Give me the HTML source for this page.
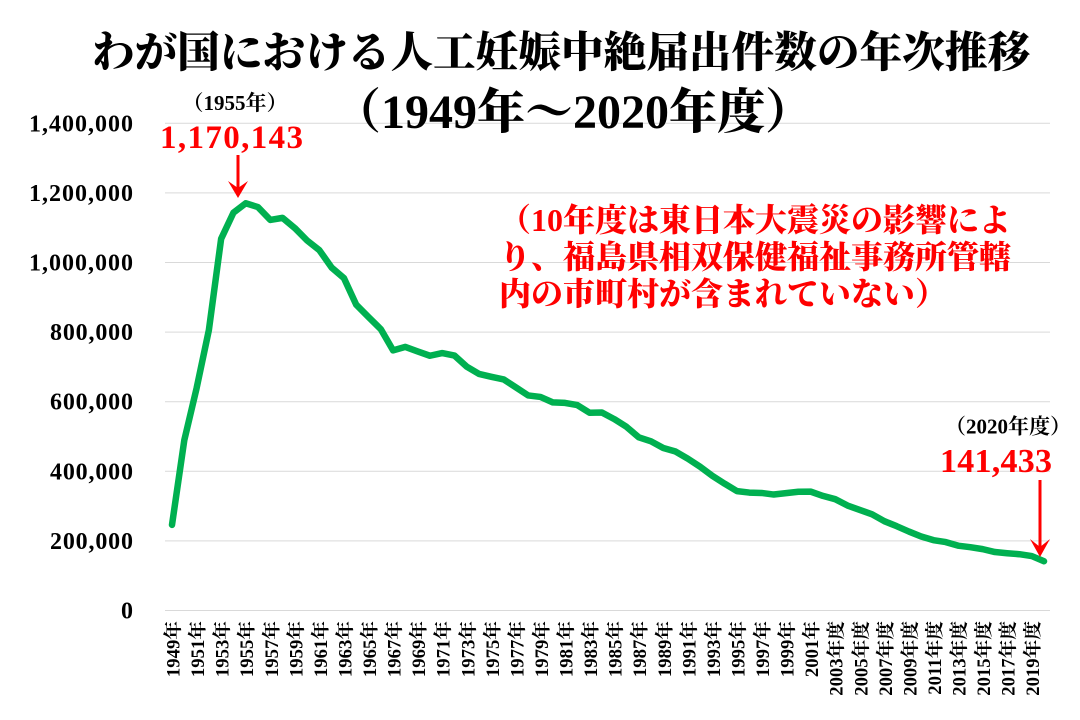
<!DOCTYPE html>
<html lang="ja">
<head>
<meta charset="utf-8">
<style>
html,body{margin:0;padding:0;background:#fff;}
svg{display:block;}
.lat{font-family:"Liberation Serif","Noto Serif CJK SC",serif;font-weight:bold;}
.cjk{font-family:"Liberation Serif","Noto Serif CJK SC","Noto Serif CJK JP",serif;}
</style>
</head>
<body>
<svg width="1080" height="720" viewBox="0 0 1080 720" xmlns="http://www.w3.org/2000/svg">
<rect width="1080" height="720" fill="#fff"/>

<!-- gridlines -->
<g stroke="#d9d9d9" stroke-width="1">
<line x1="165" x2="1050" y1="610.5" y2="610.5"/>
<line x1="165" x2="1050" y1="540.9" y2="540.9"/>
<line x1="165" x2="1050" y1="471.3" y2="471.3"/>
<line x1="165" x2="1050" y1="401.7" y2="401.7"/>
<line x1="165" x2="1050" y1="332.1" y2="332.1"/>
<line x1="165" x2="1050" y1="262.5" y2="262.5"/>
<line x1="165" x2="1050" y1="192.9" y2="192.9"/>
<line x1="165" x2="1050" y1="123.3" y2="123.3"/>
</g>

<!-- y labels -->
<g class="lat" font-size="24" fill="#000" text-anchor="end">
<text x="133" y="131.3" textLength="104" lengthAdjust="spacing">1,400,000</text>
<text x="133" y="200.9" textLength="104" lengthAdjust="spacing">1,200,000</text>
<text x="133" y="270.5" textLength="104" lengthAdjust="spacing">1,000,000</text>
<text x="133" y="340.1" textLength="83" lengthAdjust="spacing">800,000</text>
<text x="133" y="409.7" textLength="83" lengthAdjust="spacing">600,000</text>
<text x="133" y="479.3" textLength="83" lengthAdjust="spacing">400,000</text>
<text x="133" y="548.9" textLength="83" lengthAdjust="spacing">200,000</text>
<text x="133" y="618.5">0</text>
</g>

<!-- x labels -->
<g class="cjk" font-size="18.7" font-weight="bold" fill="#000" text-anchor="end" dominant-baseline="central">
<text transform="translate(174,621) rotate(-90)">1949年</text>
<text transform="translate(198.56,621) rotate(-90)">1951年</text>
<text transform="translate(223.13,621) rotate(-90)">1953年</text>
<text transform="translate(247.69,621) rotate(-90)">1955年</text>
<text transform="translate(272.26,621) rotate(-90)">1957年</text>
<text transform="translate(296.82,621) rotate(-90)">1959年</text>
<text transform="translate(321.38,621) rotate(-90)">1961年</text>
<text transform="translate(345.95,621) rotate(-90)">1963年</text>
<text transform="translate(370.51,621) rotate(-90)">1965年</text>
<text transform="translate(395.08,621) rotate(-90)">1967年</text>
<text transform="translate(419.64,621) rotate(-90)">1969年</text>
<text transform="translate(444.20,621) rotate(-90)">1971年</text>
<text transform="translate(468.77,621) rotate(-90)">1973年</text>
<text transform="translate(493.33,621) rotate(-90)">1975年</text>
<text transform="translate(517.90,621) rotate(-90)">1977年</text>
<text transform="translate(542.46,621) rotate(-90)">1979年</text>
<text transform="translate(567.02,621) rotate(-90)">1981年</text>
<text transform="translate(591.59,621) rotate(-90)">1983年</text>
<text transform="translate(616.15,621) rotate(-90)">1985年</text>
<text transform="translate(640.72,621) rotate(-90)">1987年</text>
<text transform="translate(665.28,621) rotate(-90)">1989年</text>
<text transform="translate(689.84,621) rotate(-90)">1991年</text>
<text transform="translate(714.41,621) rotate(-90)">1993年</text>
<text transform="translate(738.97,621) rotate(-90)">1995年</text>
<text transform="translate(763.54,621) rotate(-90)">1997年</text>
<text transform="translate(788.10,621) rotate(-90)">1999年</text>
<text transform="translate(812.66,621) rotate(-90)">2001年</text>
<text transform="translate(837.23,621) rotate(-90)">2003年度</text>
<text transform="translate(861.79,621) rotate(-90)">2005年度</text>
<text transform="translate(886.36,621) rotate(-90)">2007年度</text>
<text transform="translate(910.92,621) rotate(-90)">2009年度</text>
<text transform="translate(935.48,621) rotate(-90)">2011年度</text>
<text transform="translate(960.05,621) rotate(-90)">2013年度</text>
<text transform="translate(984.61,621) rotate(-90)">2015年度</text>
<text transform="translate(1009.18,621) rotate(-90)">2017年度</text>
<text transform="translate(1033.74,621) rotate(-90)">2019年度</text>
</g>

<!-- data line -->
<polyline fill="none" stroke="#00B050" stroke-width="6.5" stroke-linejoin="round" stroke-linecap="round"
points="172.0,524.86 184.28,440.29 196.56,388.35 208.85,330.18 221.13,238.81 233.41,212.72 245.69,203.29 257.97,207.07 270.26,219.93 282.54,217.88 294.82,228.10 307.10,240.49 319.38,250.21 331.67,267.60 343.95,278.13 356.23,304.70 368.51,317.05 380.79,329.18 393.08,350.37 405.36,346.93 417.64,351.43 429.92,355.75 442.20,353.09 454.49,355.54 466.77,366.71 479.05,373.92 491.33,376.78 503.61,379.39 515.90,387.35 528.18,395.42 540.46,396.94 552.74,402.37 565.02,402.89 577.31,405.08 589.59,412.71 601.87,412.52 614.15,419.06 626.43,426.79 638.72,437.28 651.00,441.32 663.28,448.03 675.56,451.53 687.84,458.67 700.13,466.76 712.41,475.89 724.69,483.71 736.97,491.13 749.25,492.57 761.54,492.95 773.82,494.54 786.10,493.12 798.38,491.78 810.66,491.63 822.95,495.89 835.23,499.20 847.51,505.52 859.79,509.88 872.07,514.33 884.36,521.18 896.64,526.17 908.92,531.55 921.20,536.48 933.48,540.17 945.77,542.07 958.05,545.68 970.33,547.20 982.61,549.12 994.89,552.03 1007.17,553.21 1019.46,554.21 1031.74,556.06 1044.02,561.28"/>

<!-- title -->
<g class="cjk" fill="#000" font-weight="900">
<text x="92" y="67" font-size="42.6" textLength="938" lengthAdjust="spacingAndGlyphs">わが国における人工妊娠中絶届出件数の年次推移</text>
<text x="573" y="128" font-size="48" text-anchor="middle">（1949年～2020年度）</text>
</g>

<!-- 1955 annotation -->
<text class="cjk" x="235" y="110" font-size="21" font-weight="bold" text-anchor="middle" fill="#000">（1955年）</text>
<text class="lat" x="160" y="148" font-size="33" fill="#FF0000" textLength="143" lengthAdjust="spacing">1,170,143</text>
<line x1="238" y1="155" x2="238" y2="188" stroke="#FF0000" stroke-width="3"/>
<polygon points="228,181 238,188 248,181 238,198" fill="#FF0000"/>

<!-- 2020 annotation -->
<text class="cjk" x="1008" y="433.5" font-size="21" font-weight="bold" text-anchor="middle" fill="#000">（2020年度）</text>
<text class="lat" x="940" y="472" font-size="34" fill="#FF0000" textLength="112" lengthAdjust="spacing">141,433</text>
<line x1="1040" y1="480" x2="1040" y2="547" stroke="#FF0000" stroke-width="3"/>
<polygon points="1030,539 1040,547 1050,539 1040,557" fill="#FF0000"/>

<!-- note -->
<g class="cjk" fill="#FF0000" font-weight="900" font-size="32">
<text x="499" y="231" textLength="512" lengthAdjust="spacingAndGlyphs">（10年度は東日本大震災の影響によ</text>
<text x="499" y="268" textLength="512" lengthAdjust="spacingAndGlyphs">り、福島県相双保健福祉事務所管轄</text>
<text x="499" y="305" textLength="448" lengthAdjust="spacingAndGlyphs">内の市町村が含まれていない）</text>
</g>
</svg>
</body>
</html>
